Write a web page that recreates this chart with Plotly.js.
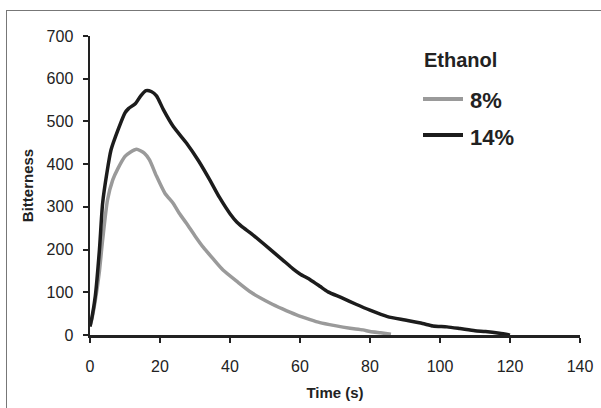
<!DOCTYPE html>
<html>
<head>
<meta charset="utf-8">
<script src="https://cdn.plot.ly/plotly-3.0.1.min.js"></script>
<style>
html,body{margin:0;padding:0;background:#fff;overflow:hidden;}
#wrap{position:relative;width:601px;height:408px;overflow:hidden;}
#frame{position:absolute;left:6px;top:10px;width:700px;height:500px;border-left:1.5px solid #777;border-top:1.5px solid #777;pointer-events:none;}
#chart{position:absolute;left:0;top:0;width:601px;height:408px;}
</style>
</head>
<body>
<div id="wrap">
<div id="chart"></div>
<div id="frame"></div>
</div>
<script>
// Time (s) and bitterness for 8% ethanol
const time8 = [0, 0.6, 1.5, 2.7, 3.6, 5, 6.5, 8, 10, 11.5, 13.3, 15.5, 17, 19, 21.4, 23.8, 25.5, 27.6, 30, 32.4, 35.2, 38, 41.9, 46, 51.4, 55, 59, 62.9, 65.7, 70, 74.3, 78, 80, 83, 86];
const bitter8 = [20, 40, 80, 150, 222, 316, 363, 390, 418, 428, 435, 426, 410, 372, 332, 308, 285, 261, 232, 205, 178, 152, 126, 100, 75, 61, 47, 36, 29, 22, 16, 12, 8, 5, 2];
// Time (s) and bitterness for 14% ethanol
const time14 = [0, 0.6, 1.5, 2.7, 3.6, 4.8, 6, 8, 10, 11, 13, 14.5, 16, 17.5, 19, 21, 23.8, 27.6, 31, 34.3, 37, 40, 42, 44, 46, 51.4, 55, 58, 60, 63, 65.7, 68, 72, 76, 80, 85, 90, 95, 98, 102, 105.7, 110, 113, 117, 120];
const bitter14 = [20, 43, 90, 200, 308, 378, 433, 480, 520, 530, 542, 560, 572, 570, 560, 527, 488, 449, 408, 362, 322, 284, 264, 250, 238, 201, 176, 155, 143, 129, 114, 101, 87, 72, 58, 43, 35, 27, 21, 19, 15, 10, 8, 4, 0];

const seriesNames = ["8%", "14%"];
const seriesColors = ["#9a9a9a", "#1c1c1c"];
const legendTitle = "Ethanol";
const xTicks = [0, 20, 40, 60, 80, 100, 120, 140];
const yTicks = [0, 100, 200, 300, 400, 500, 600, 700];

const FONT = "'Liberation Sans', Arial, sans-serif";

const traces = [
  {x: time8, y: bitter8, name: seriesNames[0], mode: "lines", line: {color: seriesColors[0], width: 3.5, shape: "spline", smoothing: 0.6}, showlegend: false},
  {x: time14, y: bitter14, name: seriesNames[1], mode: "lines", line: {color: seriesColors[1], width: 3.5, shape: "spline", smoothing: 0.6}, showlegend: false}
];

// plot area: x 90..580 px, y 36..335 px
const W = 490, H = 299, L = 90, T = 36;
function px(xp) { return (xp - L) / W; }
function py(yp) { return (T + H - yp) / H; }

const layout = {
  width: 601, height: 408,
  margin: {l: 90, r: 21, t: 36, b: 73},
  paper_bgcolor: "rgba(0,0,0,0)", plot_bgcolor: "rgba(0,0,0,0)",
  font: {family: FONT, color: "#222", size: 16},
  showlegend: false,
  xaxis: {
    range: [0, 140], tickvals: xTicks, ticktext: xTicks.map(String),
    ticks: "outside", ticklen: 5, tickwidth: 2, tickcolor: "#222",
    showline: true, linecolor: "#222", linewidth: 2.5,
    showgrid: false, zeroline: false, ticklabelstandoff: 10,
    tickfont: {size: 16, color: "#222"},
    title: {text: "<b>Time (s)</b>", font: {size: 15, color: "#222"}, standoff: 14}
  },
  yaxis: {
    range: [0, 700], tickvals: yTicks, ticktext: yTicks.map(String),
    ticks: "outside", ticklen: 5, tickwidth: 2, tickcolor: "#222",
    showline: true, linecolor: "#222", linewidth: 2.5,
    showgrid: false, zeroline: false, ticklabelstandoff: 6,
    tickfont: {size: 16, color: "#222"},
    title: {text: "<b>Bitterness</b>", font: {size: 15, color: "#222"}, standoff: 10}
  },
  shapes: [
    {type: "line", xref: "paper", yref: "paper", x0: px(423), x1: px(463), y0: py(99), y1: py(99),
     line: {color: seriesColors[0], width: 4}},
    {type: "line", xref: "paper", yref: "paper", x0: px(423), x1: px(463), y0: py(135), y1: py(135),
     line: {color: seriesColors[1], width: 4}}
  ],
  annotations: [
    {xref: "paper", yref: "paper", x: px(422), y: py(60), xanchor: "left", yanchor: "middle",
     text: "<b>" + legendTitle + "</b>", showarrow: false, font: {size: 20, color: "#222"}},
    {xref: "paper", yref: "paper", x: px(468), y: py(101), xanchor: "left", yanchor: "middle",
     text: "<b>" + seriesNames[0] + "</b>", showarrow: false, font: {size: 22, color: "#222"}},
    {xref: "paper", yref: "paper", x: px(468), y: py(137), xanchor: "left", yanchor: "middle",
     text: "<b>" + seriesNames[1] + "</b>", showarrow: false, font: {size: 22, color: "#222"}}
  ]
};

Plotly.newPlot("chart", traces, layout, {displayModeBar: false, staticPlot: true});
</script>
</body>
</html>
